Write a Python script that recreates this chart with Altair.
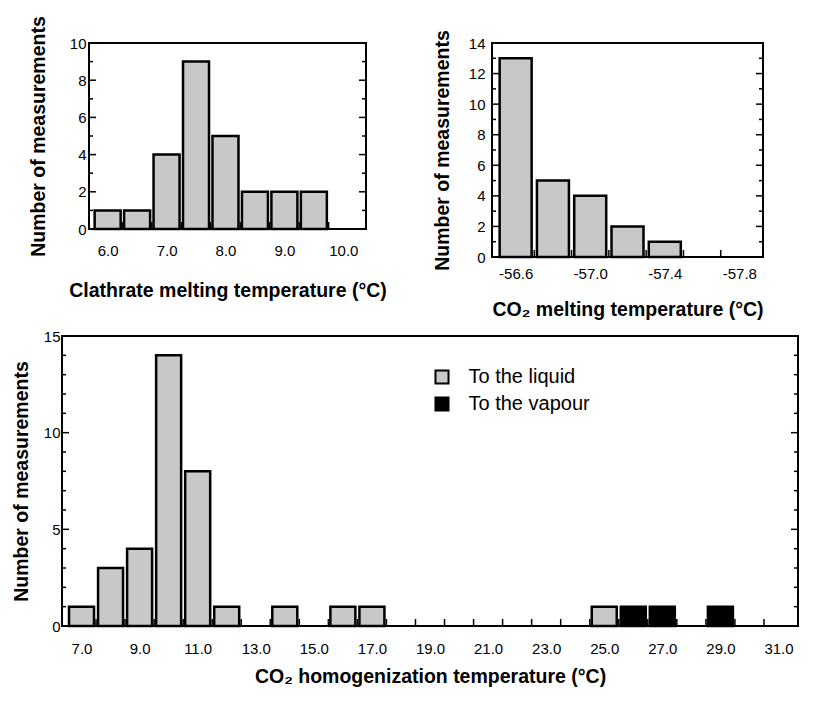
import altair as alt
import pandas as pd

# ---------------- data ----------------
clath_temp = [6.0, 6.5, 7.0, 7.5, 8.0, 8.5, 9.0, 9.5]
clath_count = [1, 1, 4, 9, 5, 2, 2, 2]

co2m_temp = [-56.6, -56.8, -57.0, -57.2, -57.4]
co2m_count = [13, 5, 4, 2, 1]

homog_liq_temp = [7, 8, 9, 10, 11, 12, 14, 16, 17, 25]
homog_liq_count = [1, 3, 4, 14, 8, 1, 1, 1, 1, 1]
homog_vap_temp = [26, 27, 29]
homog_vap_count = [1, 1, 1]
series_names = ["To the liquid", "To the vapour"]

# axis label / tick values
clath_xlabels = [6, 7, 8, 9, 10]
clath_edges = [6.25, 6.75, 7.25, 7.75, 8.25, 8.75, 9.25, 9.75]
clath_ymajor = [0, 2, 4, 6, 8, 10]
clath_yminor = [1, 3, 5, 7, 9]

co2m_xlabels = [-56.6, -57.0, -57.4, -57.8]
co2m_edges = [-56.7, -56.9, -57.1, -57.3, -57.5, -57.7]
co2m_ymajor = [0, 2, 4, 6, 8, 10, 12, 14]
co2m_yminor = [1, 3, 5, 7, 9, 11, 13]

homog_xlabels = [7, 9, 11, 13, 15, 17, 19, 21, 23, 25, 27, 29, 31]
homog_edges = [7.5, 8.5, 9.5, 10.5, 11.5, 12.5, 13.5, 14.5, 15.5, 16.5, 17.5, 18.5,
               19.5, 20.5, 21.5, 22.5, 23.5, 24.5, 25.5, 26.5, 27.5, 28.5, 29.5, 30.5]
homog_ymajor = [0, 5, 10, 15]
homog_yminor = [1, 2, 3, 4, 6, 7, 8, 9, 11, 12, 13, 14]

GRAY = "#c8c8c8"
FONT = "Liberation Sans"
YTITLE = "Number of measurements"
TFS = 19.5  # title font size


def yaxis(values, label_pad, title_pad, offset=0):
    return alt.Axis(values=values, format="d", ticks=False, tickSize=0, domain=False,
                    grid=False, labelPadding=label_pad, labelFontSize=15, labelFont=FONT,
                    labelColor="black", title=YTITLE, titleFont=FONT, titleFontSize=TFS,
                    titleFontWeight="bold", titleColor="black", titlePadding=title_pad,
                    offset=offset)


def xaxis(values, title, label_pad, title_pad, label_expr, title_x=None):
    kw = {}
    if title_x is not None:
        kw["titleX"] = title_x
    return alt.Axis(values=values, labelExpr=label_expr, ticks=False, tickSize=0, domain=False,
                    grid=False, labelPadding=label_pad, labelFontSize=15, labelFont=FONT,
                    labelColor="black", labelFlush=False, title=title, titleFont=FONT,
                    titleFontSize=TFS, titleFontWeight="bold", titleColor="black",
                    titlePadding=title_pad, **kw)


def frame_ticks(xscale, xax, yscale, yax, x0, W, H, edges, ymajor, yminor):
    """Inward ticks on left/right frame edges and on the bottom edge (bin edges)."""
    layers = []
    for vals, ln in ((ymajor, 7), (yminor, 4)):
        d = pd.DataFrame({"n": vals})
        layers.append(alt.Chart(d).mark_rule(color="black", strokeWidth=1.5).encode(
            y=alt.Y("n:Q", scale=yscale, axis=yax), x=alt.value(x0), x2=alt.value(x0 + ln)))
        layers.append(alt.Chart(d).mark_rule(color="black", strokeWidth=1.5).encode(
            y=alt.Y("n:Q", scale=yscale, axis=yax), x=alt.value(W - ln), x2=alt.value(W)))
    de = pd.DataFrame({"t": edges})
    layers.append(alt.Chart(de).mark_rule(color="black", strokeWidth=1.5).encode(
        x=alt.X("t:Q", scale=xscale, axis=xax), y=alt.value(H), y2=alt.value(H - 7)))
    return layers


# ---------------- panel A: clathrate melting ----------------
# plot area is widened to the left by SHIFT px; the frame is drawn at SHIFT
SHIFT = 27
WA, HA = 277 + SHIFT, 186
xsA = alt.Scale(domain=[5.75 - SHIFT / 61.4, 10.3], nice=False, zero=False)
ysA = alt.Scale(domain=[0, 10], nice=False)
xaxA = xaxis(clath_xlabels, "Clathrate melting temperature (°C)", 14, 23,
             "format(datum.value, '.1f')", title_x=SHIFT + 277 / 2)
yaxA = yaxis(clath_ymajor, 3, 21, offset=-SHIFT)
dfA = pd.DataFrame({"t": clath_temp, "n": clath_count})
frameA = alt.Chart(pd.DataFrame({"a": [0]})).mark_rect(
    fill=None, stroke="black", strokeWidth=2).encode(
    x=alt.value(SHIFT), x2=alt.value(WA), y=alt.value(0), y2=alt.value(HA))
barsA = alt.Chart(dfA).mark_bar(size=26, fill=GRAY, stroke="black", strokeWidth=2.5).encode(
    x=alt.X("t:Q", scale=xsA, axis=xaxA),
    y=alt.Y("n:Q", scale=ysA, axis=yaxA),
)
chartA = alt.layer(
    barsA,
    *frame_ticks(xsA, xaxA, ysA, yaxA, SHIFT, WA, HA, clath_edges, clath_ymajor, clath_yminor),
    frameA,
).properties(width=WA, height=HA, view=alt.ViewBackground(strokeOpacity=0))

# ---------------- panel B: CO2 melting ----------------
WB, HB = 271, 214
xsB = alt.Scale(domain=[-57.9, -56.5], reverse=True, nice=False, zero=False)
ysB = alt.Scale(domain=[0, 14], nice=False)
xaxB = xaxis(co2m_xlabels, "CO₂ melting temperature (°C)", 9, 19,
             "'-' + format(abs(datum.value), '.1f')")
yaxB = yaxis(co2m_ymajor, 7, 15.5)
dfB = pd.DataFrame({"t": co2m_temp, "n": co2m_count})
barsB = alt.Chart(dfB).mark_bar(size=32, fill=GRAY, stroke="black", strokeWidth=2.5).encode(
    x=alt.X("t:Q", scale=xsB, axis=xaxB),
    y=alt.Y("n:Q", scale=ysB, axis=yaxB),
)
chartB = alt.layer(
    barsB,
    *frame_ticks(xsB, xaxB, ysB, yaxB, 0, WB, HB, co2m_edges, co2m_ymajor, co2m_yminor),
).properties(width=WB, height=HB)

# ---------------- panel C: CO2 homogenization ----------------
WC, HC = 736, 290
xsC = alt.Scale(domain=[6.5, 31.5], nice=False, zero=False)
ysC = alt.Scale(domain=[0, 15], nice=False)
xaxC = xaxis(homog_xlabels, "CO₂ homogenization temperature (°C)", 15, 11,
             "format(datum.value, '.1f')")
yaxC = yaxis(homog_ymajor, 2, 11.5)
dfC = pd.concat([
    pd.DataFrame({"t": homog_liq_temp, "n": homog_liq_count, "series": series_names[0]}),
    pd.DataFrame({"t": homog_vap_temp, "n": homog_vap_count, "series": series_names[1]}),
])
barsC = alt.Chart(dfC).mark_bar(size=25, stroke="black", strokeWidth=2.5, opacity=1).encode(
    x=alt.X("t:Q", scale=xsC, axis=xaxC),
    y=alt.Y("n:Q", scale=ysC, axis=yaxC),
    color=alt.Color("series:N", scale=alt.Scale(domain=series_names, range=[GRAY, "black"]),
                    legend=alt.Legend(title=None, orient="none", legendX=370, legendY=324,
                                      symbolType="square", symbolSize=170,
                                      symbolStrokeColor="black", symbolStrokeWidth=2,
                                      symbolOpacity=1, labelFont=FONT, labelFontSize=20,
                                      labelColor="black", labelOffset=16.5, rowPadding=5,
                                      padding=0)),
)
chartC = alt.layer(
    barsC,
    *frame_ticks(xsC, xaxC, ysC, yaxC, 0, WC, HC, homog_edges, homog_ymajor, homog_yminor),
).properties(width=WC, height=HC)

top = alt.hconcat(chartA, chartB, spacing=44)
chart = alt.vconcat(top, chartC, spacing=8).properties(
    padding={"left": 2, "top": 7, "right": 0, "bottom": 0}
).configure_view(stroke="black", strokeWidth=2)

chart.save("out.html", embed_options={"renderer": "svg", "actions": False})
